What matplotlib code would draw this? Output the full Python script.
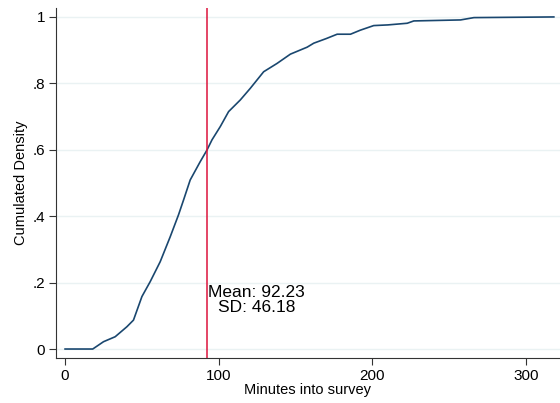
import matplotlib
matplotlib.use("Agg")
from matplotlib import pyplot as plt

minutes = [0, 18, 25, 32.6, 40.2, 44.5, 50, 55.4, 61.9, 68.4, 73.8, 77.1, 81.4, 87.9, 92.3,
           95.6, 101, 106.4, 114, 120.5, 129.2, 137.9, 146.6, 157.5, 161.8, 170, 177, 185.7,
           192, 200.8, 210, 222.6, 226.9, 257.3, 266, 318]
cum_density = [0, 0, 0.022, 0.037, 0.067, 0.087, 0.158, 0.203, 0.263, 0.338, 0.404, 0.449,
               0.509, 0.564, 0.599, 0.63, 0.67, 0.715, 0.75, 0.785, 0.835, 0.86, 0.888,
               0.909, 0.921, 0.935, 0.948, 0.948, 0.96, 0.974, 0.976, 0.981, 0.988, 0.991,
               0.998, 1.0]
mean_val = 92.23
sd_val = 46.18
xticks = [0, 100, 200, 300]
yticks = [0, 0.2, 0.4, 0.6, 0.8, 1]
ylabels = ["0", ".2", ".4", ".6", ".8", "1"]

plt.rcParams['font.family'] = ['Liberation Sans', 'DejaVu Sans']

fig = plt.figure(figsize=(5.6, 4.03), dpi=100)
ax = fig.add_axes([0.1, 0.1117, 0.9, 0.8685])

ax.plot(minutes, cum_density, color='#1a476f', lw=1.2)
ax.axvline(mean_val, color='#dc143c', lw=1.1)
ax.text(mean_val + 1, 0.148, "Mean: %.2f\nSD: %.2f" % (mean_val, sd_val),
        fontsize=12.5, ha='left', va='center', multialignment='center', linespacing=1.05)

ax.set_xlim(-5.9, 322)
ax.set_ylim(-0.027, 1.027)
ax.set_xticks(xticks)
ax.set_yticks(yticks)
ax.set_yticklabels(ylabels)
ax.tick_params(labelsize=11, length=5, width=0.8, color='#333333', pad=3)
ax.set_xlabel("Minutes into survey", fontsize=10.5, labelpad=0)
ax.set_ylabel("Cumulated Density", fontsize=10.5, labelpad=3)

ax.grid(axis='y', color='#eaf2f3', lw=1)
ax.set_axisbelow(True)
for s in ['top', 'right']:
    ax.spines[s].set_visible(False)
for s in ['left', 'bottom']:
    ax.spines[s].set_color('#333333')

plt.savefig('out.png', dpi=100)
